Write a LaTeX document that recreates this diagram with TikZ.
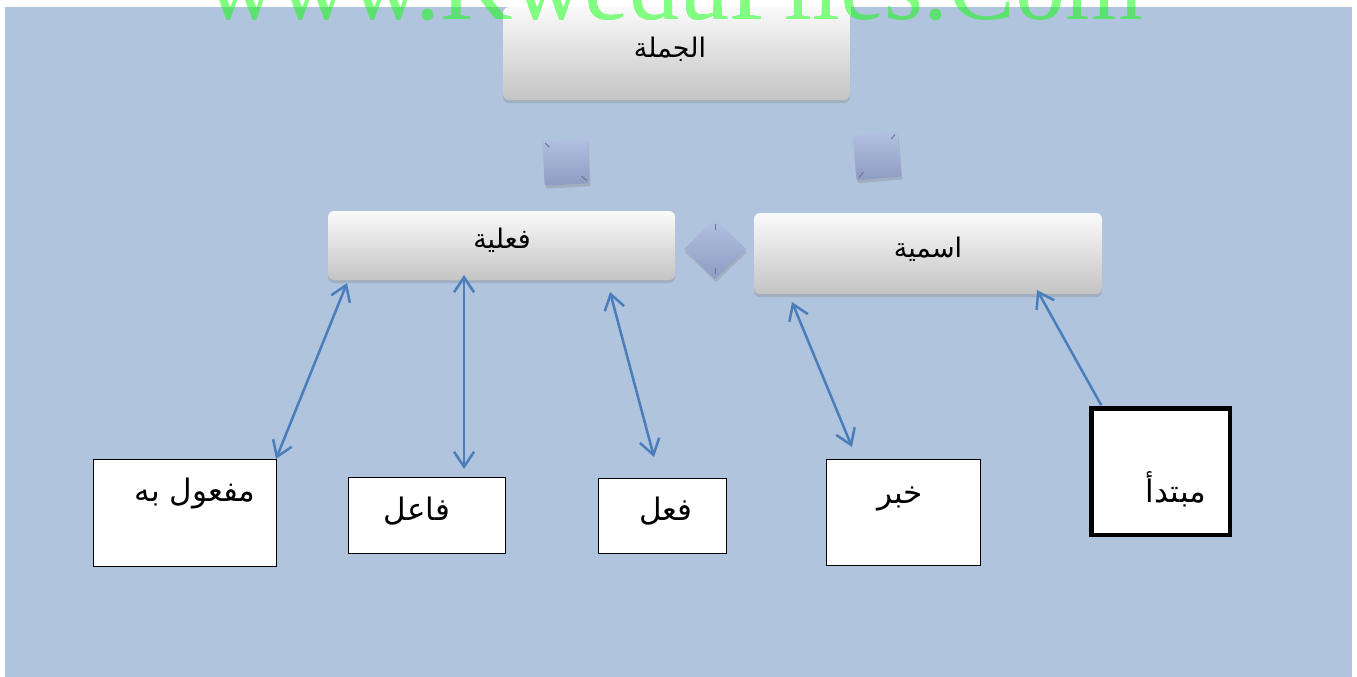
\documentclass[tikz,border=0pt]{standalone}
\usepackage{fontspec}
\setmainfont{Liberation Serif}
\newfontfamily\arabicfont[Script=Arabic]{DejaVu Sans}
\TeXXeTstate=1
\usetikzlibrary{arrows.meta,shadows,calc,shapes.geometric}
\definecolor{bgblue}{HTML}{B0C4DE}
\definecolor{arrowblue}{HTML}{4A7EBB}
\definecolor{boxtop}{HTML}{FAFAFA}
\definecolor{boxbot}{HTML}{C4C4C4}
\definecolor{sqtop}{HTML}{B2C0E2}
\definecolor{sqbot}{HTML}{8E9CC3}
\definecolor{tickcol}{HTML}{6B7696}
\definecolor{wmlight}{HTML}{80FF80}
\definecolor{wmdark}{HTML}{5CE070}
\begin{document}
\begin{tikzpicture}[x=1pt,y=-1pt,
  topbox/.style={rectangle, rounded corners=6pt, top color=boxtop, bottom color=boxbot,
    draw=none, inner sep=0pt, outer sep=0pt,
    drop shadow={opacity=0.3, shadow xshift=0pt, shadow yshift=-3pt}},
  leaf/.style={rectangle, draw=black, line width=1pt, fill=white, inner sep=0pt, outer sep=0pt},
  conn/.style={top color=sqtop, bottom color=sqbot, draw=none, inner sep=0pt, outer sep=0pt,
    drop shadow={opacity=0.3, shadow xshift=1pt, shadow yshift=-3pt}},
  tickline/.style={draw=tickcol, line width=1pt},
  lbl/.style={font=\arabicfont\fontsize{27}{31}\selectfont, inner sep=0pt},
  biglbl/.style={font=\arabicfont\fontsize{31}{35}\selectfont, inner sep=0pt},
  barb/.tip={Straight Barb[length=15pt,width=20pt]},
  link/.style={draw=arrowblue, line width=2.5pt, barb-barb},
  onelink/.style={draw=arrowblue, line width=2.5pt, -barb},
  wmtext/.style={font=\fontsize{100}{100}\selectfont, anchor=base west, inner sep=0pt, text depth=0pt}
]
\useasboundingbox (0,0) rectangle (1357,677);
\fill[white] (0,0) rectangle (1357,677);
\fill[bgblue] (5,7) rectangle (1352,677);

% top-level boxes
\node[topbox, minimum width=347pt, minimum height=93pt] (jumla) at (676.5,53.5) {};
\node[topbox, minimum width=347pt, minimum height=69pt] (filiya) at (501.5,245.5) {};
\node[topbox, minimum width=348pt, minimum height=81pt] (ismiya) at (928,253.5) {};

\node[lbl] (jumlat) at (670,49) {\beginR الجملة\endR};
\node[lbl] (filiyat) at (502,240) {\beginR فعلية\endR};
\node[lbl] (ismiyat) at (928,249) {\beginR اسمية\endR};

% connector shapes
\node[conn, rectangle, rounded corners=2pt, minimum size=45pt, rotate=3] (sqa) at (566,162) {};
\node[conn, rectangle, rounded corners=2pt, minimum size=45pt, rotate=5] (sqb) at (877,156) {};
\node[conn, diamond, minimum width=62pt, minimum height=60pt] (dia) at (715,249) {};
\draw[tickline] ($(sqa.north west)!0.12!(sqa.center)$) -- ($(sqa.north west)!0.3!(sqa.center)$);
\draw[tickline] ($(sqa.south east)!0.12!(sqa.center)$) -- ($(sqa.south east)!0.34!(sqa.center)$);
\draw[tickline] ($(sqb.north east)!0.12!(sqb.center)$) -- ($(sqb.north east)!0.3!(sqb.center)$);
\draw[tickline] ($(sqb.south west)!0.12!(sqb.center)$) -- ($(sqb.south west)!0.34!(sqb.center)$);
\draw[tickline] ($(dia.north)!0.18!(dia.center)$) -- ($(dia.north)!0.38!(dia.center)$);
\draw[tickline] ($(dia.south)!0.18!(dia.center)$) -- ($(dia.south)!0.38!(dia.center)$);

% leaf boxes
\node[leaf, minimum width=183pt, minimum height=107pt] (mafool) at (184.5,512.5) {};
\node[leaf, minimum width=157pt, minimum height=76pt] (fael) at (426.5,515) {};
\node[leaf, minimum width=128pt, minimum height=75pt] (fil) at (662,515.5) {};
\node[leaf, minimum width=154pt, minimum height=106pt] (khabar) at (903,512) {};
\node[leaf, line width=4.5pt, minimum width=138.5pt, minimum height=126.5pt] (mubtada) at (1160.5,471.5) {};

\node[biglbl] (mafoolt) at (195,494) {\beginR مفعول به\endR};
\node[biglbl] (faelt) at (417,511) {\beginR فاعل\endR};
\node[biglbl] (filt) at (666,511) {\beginR فعل\endR};
\node[biglbl] (khabart) at (900,499) {\beginR خبر\endR};
\node[biglbl] (mubtadat) at (1176,489) {\beginR مبتدأ\endR};

% connectors
\draw[link] (mafool.north east) -- ($(filiya.south west)+(19,3)$);
\draw[link] ($(fael.north)+(37.5,-8)$) -- ($(filiya.south)+(-37.5,-5)$);
\draw[link] ($(fil.north)+(-8,-21)$) -- ($(filiya.south east)+(-65,12)$);
\draw[link] ($(khabar.north)+(-51,-12)$) -- ($(ismiya.south west)+(38,8)$);
\draw[onelink] ($(mubtada.north west)+(10,-3)$) -- ($(ismiya.south east)+(-65,-4)$);

% watermark
\begin{scope}
  \clip (5,7) rectangle (1352,40);
  \node[wmtext, text=wmdark] (wmb) at (205,20) {www.KweduFiles.Com};
\end{scope}
\begin{scope}
  \clip (0,0) rectangle (1357,7) (503,7) rectangle (850,100);
  \node[wmtext, text=wmlight] (wma) at (205,20) {www.KweduFiles.Com};
\end{scope}
\end{tikzpicture}
\end{document}
